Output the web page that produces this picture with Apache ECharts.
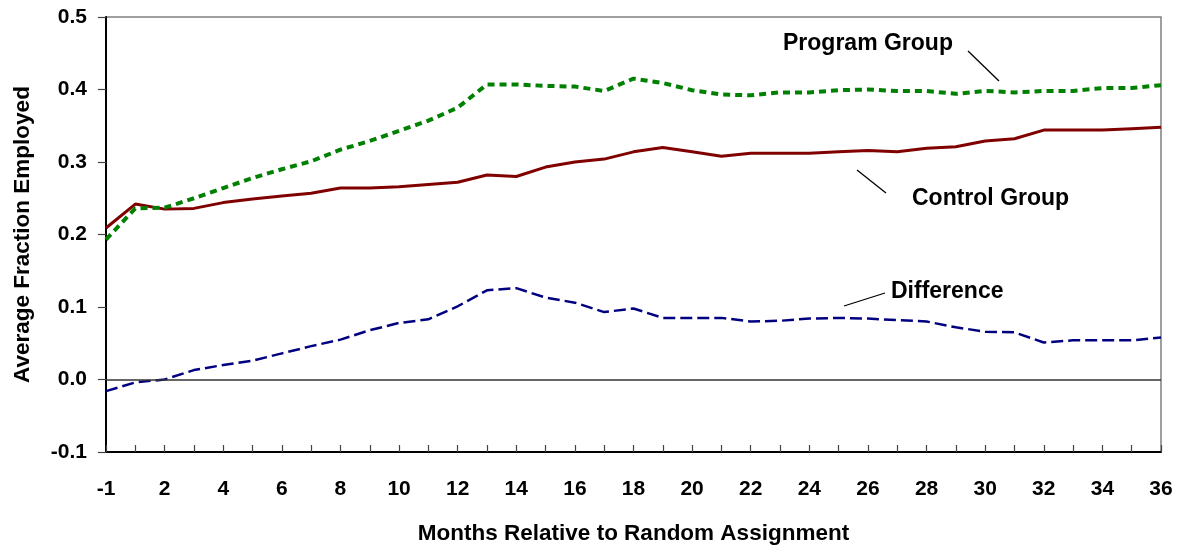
<!DOCTYPE html>
<html>
<head>
<meta charset="utf-8">
<script src="https://cdn.jsdelivr.net/npm/echarts@6/dist/echarts.min.js"></script>
<style>
  html, body { margin: 0; padding: 0; background: #fff; }
  #chart { width: 1185px; height: 552px; }
</style>
</head>
<body>
<div id="chart"></div>
<script>
// months relative to random assignment (no month 0 in the source)
const months = ['-1'];
for (let m = 1; m <= 36; m++) months.push(String(m));

const programGroup = [
  0.193, 0.236, 0.237, 0.250, 0.264, 0.278, 0.290, 0.301, 0.317, 0.329,
  0.343, 0.357, 0.375, 0.407, 0.407, 0.405, 0.404, 0.398, 0.415, 0.409,
  0.399, 0.393, 0.392, 0.396, 0.396, 0.399, 0.400, 0.398, 0.398, 0.394,
  0.398, 0.396, 0.398, 0.398, 0.402, 0.402, 0.406
];

const controlGroup = [
  0.209, 0.242, 0.235, 0.236, 0.244, 0.249, 0.253, 0.257, 0.264, 0.264,
  0.266, 0.269, 0.272, 0.282, 0.280, 0.293, 0.300, 0.304, 0.314, 0.320,
  0.314, 0.308, 0.312, 0.312, 0.312, 0.314, 0.316, 0.314, 0.319, 0.321,
  0.329, 0.332, 0.344, 0.344, 0.344, 0.346, 0.348
];

const difference = [
  -0.016, -0.004, 0.000, 0.013, 0.020, 0.026, 0.036, 0.046, 0.055, 0.068,
  0.078, 0.083, 0.101, 0.123, 0.126, 0.113, 0.106, 0.093, 0.098, 0.085,
  0.085, 0.085, 0.080, 0.081, 0.084, 0.085, 0.084, 0.082, 0.080, 0.072,
  0.066, 0.065, 0.051, 0.054, 0.054, 0.054, 0.058
];

const FONT = '"Liberation Sans", Arial, sans-serif';

const chart = echarts.init(document.getElementById('chart'), null, { renderer: 'canvas' });

const labelStyle = { fontFamily: FONT, fontWeight: 'bold', color: '#000' };
const noteStyle = { fontSize: 23, fill: '#000', fontFamily: FONT, fontWeight: 'bold' };

chart.setOption({
  animation: false,
  backgroundColor: '#fff',
  grid: {
    left: 106, right: 24, top: 17, bottom: 100,
    show: true, borderColor: '#808080', borderWidth: 1.5
  },
  xAxis: {
    type: 'category',
    data: months,
    boundaryGap: false,
    axisLine: { onZero: false, lineStyle: { color: '#000', width: 2 } },
    axisTick: { inside: true, length: 7, interval: 0, lineStyle: { color: '#444', width: 1.2 } },
    axisLabel: Object.assign({ interval: 1, margin: 27, fontSize: 21 }, labelStyle),
    splitLine: { show: false },
    name: 'Months Relative to Random Assignment',
    nameLocation: 'middle',
    nameGap: 70,
    nameTextStyle: Object.assign({ fontSize: 22.5 }, labelStyle)
  },
  yAxis: {
    type: 'value',
    min: -0.1,
    max: 0.5,
    interval: 0.1,
    axisLine: { show: true, lineStyle: { color: '#000', width: 2 } },
    axisTick: { show: true, length: 8, lineStyle: { color: '#444', width: 1.2 } },
    axisLabel: Object.assign({ margin: 19, fontSize: 21, formatter: v => v.toFixed(1) }, labelStyle),
    splitLine: { show: false },
    name: 'Average Fraction Employed',
    nameLocation: 'middle',
    nameGap: 72,
    nameTextStyle: Object.assign({ fontSize: 22.5 }, labelStyle)
  },
  series: [
    {
      name: 'Control Group',
      type: 'line',
      data: controlGroup,
      symbol: 'none',
      lineStyle: { color: '#800000', width: 3 },
      markLine: {
        silent: true,
        symbol: 'none',
        label: { show: false },
        lineStyle: { color: '#333', type: 'solid', width: 1.5 },
        data: [{ yAxis: 0 }]
      }
    },
    {
      name: 'Program Group',
      type: 'line',
      data: programGroup,
      symbol: 'none',
      lineStyle: { color: '#008000', width: 4, type: [7, 5] }
    },
    {
      name: 'Difference',
      type: 'line',
      data: difference,
      symbol: 'none',
      lineStyle: { color: '#000080', width: 2.5, type: [12, 5] }
    }
  ],
  // series labels with their leader lines
  graphic: [
    { type: 'text', left: 783, top: 32, style: Object.assign({ text: 'Program Group' }, noteStyle) },
    { type: 'text', left: 912, top: 187, style: Object.assign({ text: 'Control Group' }, noteStyle) },
    { type: 'text', left: 891, top: 280, style: Object.assign({ text: 'Difference' }, noteStyle) },
    { type: 'line', shape: { x1: 968, y1: 51, x2: 999, y2: 81 }, style: { stroke: '#000', lineWidth: 1.3 } },
    { type: 'line', shape: { x1: 857, y1: 170, x2: 886, y2: 193 }, style: { stroke: '#000', lineWidth: 1.3 } },
    { type: 'line', shape: { x1: 844, y1: 306, x2: 885, y2: 293 }, style: { stroke: '#000', lineWidth: 1.3 } }
  ]
});
</script>
</body>
</html>
